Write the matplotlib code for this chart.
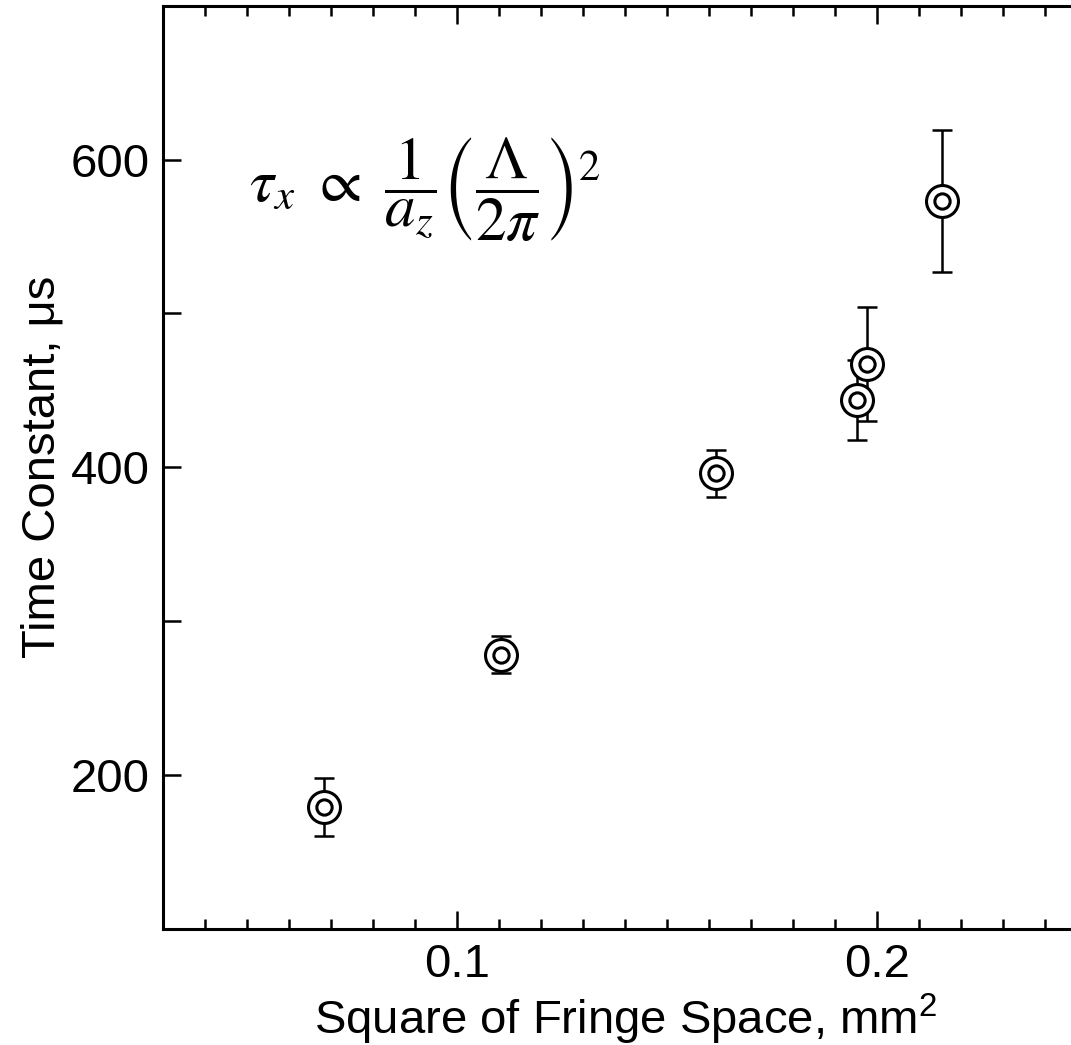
import matplotlib
matplotlib.use("Agg")
import matplotlib.pyplot as plt
from matplotlib.ticker import MultipleLocator, FuncFormatter

plt.rcParams["font.family"] = ["Liberation Sans", "DejaVu Sans"]
plt.rcParams["mathtext.fontset"] = "stix"

# fringe space squared (mm^2), time constant (us), error (us)
fringe_sq = [0.0682, 0.1103, 0.1616, 0.1952, 0.1976, 0.2154]
tau = [179, 278, 396, 444, 467, 573]
tau_err = [19, 12, 15, 26, 37, 46]

fig = plt.figure(figsize=(10.71, 10.45), dpi=100)
ax = fig.add_axes([0.1525, 0.1112, 0.8627, 0.8833])

ax.errorbar(fringe_sq, tau, yerr=tau_err, fmt="none", ecolor="black",
            elinewidth=1.8, capsize=7.5, capthick=1.8, zorder=2)
ax.plot(fringe_sq, tau, "o", ms=23, mfc="white", mec="black", mew=2.2, zorder=3)
ax.plot(fringe_sq, tau, "o", ms=11, mfc="white", mec="black", mew=2.2, zorder=4)

ax.set_xlim(0.03, 0.25)
ax.set_ylim(100, 700)
ax.xaxis.set_major_locator(MultipleLocator(0.1))
ax.xaxis.set_minor_locator(MultipleLocator(0.01))
ax.xaxis.set_major_formatter(FuncFormatter(lambda v, p: f"{v:.1f}"))
ax.set_yticks([200, 300, 400, 500, 600], ["200", "", "400", "", "600"])

ax.tick_params(which="both", direction="in", top=True, right=False, width=1.8,
               labelsize=34)
ax.tick_params(which="major", length=13, pad=10)
ax.tick_params(axis="x", which="minor", length=7)
for s in ax.spines.values():
    s.set_linewidth(2.2)

ax.set_xlabel("Square of Fringe Space, mm$^\\mathregular{2}$", fontsize=34, labelpad=4)
ax.set_ylabel("Time Constant, μs", fontsize=34, labelpad=4)

ax.text(0.0505, 580,
        r"$\tau_x\ \propto\ \dfrac{1}{a_z}\left(\dfrac{\Lambda}{2\pi}\right)^2$",
        fontsize=44, va="center", ha="left")

fig.savefig("out.png", dpi=100)
